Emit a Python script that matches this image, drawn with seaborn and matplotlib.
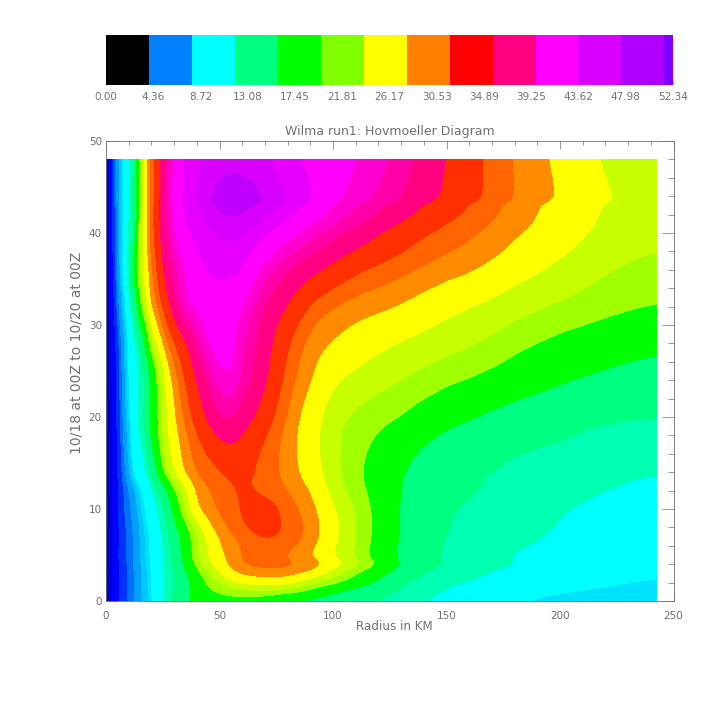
import numpy as np
import matplotlib
matplotlib.use('Agg')
import matplotlib.pyplot as plt
from matplotlib.colors import ListedColormap
from matplotlib.ticker import MultipleLocator
import seaborn as sns

# colour bar across the top
bar_step = 3.965
bar_ticks = [0.00, 4.36, 8.72, 13.08, 17.45, 21.81, 26.17, 30.53, 34.89, 39.25, 43.62, 47.98, 52.34]
bar_colors = ['#000000', '#0080ff', '#00ffff', '#00ff80', '#00ff00', '#80ff00', '#ffff00',
              '#ff8000', '#ff0000', '#ff0080', '#ff00ff', '#d800ff', '#b000ff', '#8000ff']

# contour bands of the diagram
levels = [0, 1.5, 3, 4.36, 5.5, 7, 8, 8.72, 11, 13.08, 17.45, 21.81, 24, 26.17, 29, 31, 33,
          36, 38.5, 40, 41.5, 44, 46, 48, 60]
band_colors = ['#0000d0', '#0000ff', '#0030ff', '#0070ff', '#00a0ff', '#00c8ff', '#00e0ff', '#00ffff',
               '#00ffb0', '#00ff80', '#00ff00', '#a0ff00', '#c8ff00', '#ffff00', '#ff8c00', '#ff6400',
               '#ff3000', '#ff0080', '#ff00a8', '#ff00d0', '#ff00ff', '#e800ff', '#d800ff', '#c000ff']

radius = [0, 2.5, 5, 7.5, 10, 12.5, 15, 17.5, 20, 25, 30, 35, 40, 45, 50, 55, 60, 70, 80, 90, 100,
          110, 120, 130, 140, 150, 165, 180, 200, 220, 242.3]
hours = [0, 1, 2, 3, 4, 5, 6.5, 8, 10, 12, 14, 17, 20, 24, 28, 32, 36, 40, 43, 44, 48]

# wind speed, one list per time
t00 = [0, 1.25, 2.7, 3.6, 4.45, 5.4, 6.65, 7.6, 8.45, 10.55, 13.7, 16.8, 18.6, 19.6, 20.2, 20.6, 20.7, 20.2, 17.45, 16.4, 15.4, 14.2, 13.08, 12, 11, 10.4, 9.6, 8.75, 8.45, 8.3, 8.2]
t01 = [0, 1.25, 2.7, 3.7, 4.45, 5.5, 6.75, 7.65, 8.5, 10.5, 13.08, 16, 18.9, 21.2, 22.2, 22.8, 23.2, 23.4, 23, 21, 17.45, 15.6, 13.7, 12.7, 11.6, 10.8, 10, 9.3, 8.7, 8.55, 8.4]
t02 = [0, 1.25, 2.7, 3.7, 4.45, 5.5, 6.75, 7.65, 8.55, 10.5, 13.08, 16.2, 19.6, 22.4, 24, 25.5, 26.6, 27.3, 26.9, 24.5, 22.9, 20, 16.7, 13.08, 12.2, 11.4, 10.6, 10, 9.4, 8.8, 8.6]
t03 = [0, 1.25, 2.7, 3.7, 4.45, 5.5, 6.75, 7.75, 8.65, 10.5, 13.08, 16.7, 20.9, 23.5, 26.17, 27.9, 29.3, 30.2, 30, 28.2, 25, 22.1, 18.8, 15.4, 12.8, 12.1, 11.1, 10.4, 9.7, 9.2, 8.8]
t04 = [0, 1.25, 2.7, 3.75, 4.6, 5.6, 6.85, 7.9, 8.8, 10.6, 13.5, 18.4, 22.8, 25.3, 27.6, 29.6, 31, 31.7, 31.5, 30.6, 27.7, 24.8, 21.81, 17.2, 14.1, 12.9, 11.9, 10.95, 10.3, 9.6, 9]
t05 = [0, 1.25, 2.7, 3.8, 4.7, 5.7, 7, 8, 8.9, 10.7, 13.7, 19.4, 23.6, 26.4, 28.3, 29.7, 31, 32.2, 30.8, 29.1, 25.9, 23.9, 20, 16.6, 13.9, 12.7, 11.7, 10.9, 10.2, 9.5, 9.1]
t06 = [0, 1.25, 2.65, 3.85, 4.7, 5.7, 7, 8.1, 9, 10.7, 14.5, 19.8, 23.6, 26.4, 28.9, 30.3, 31.2, 32.9, 32, 30.2, 26.6, 24.1, 20.6, 16.9, 14.5, 12.9, 12, 11.4, 10.6, 9.9, 9.3]
t08 = [0, 1.25, 2.6, 3.9, 4.75, 5.75, 7.1, 8.25, 9.2, 11, 16, 20.6, 24.7, 28, 30, 31.4, 32.5, 34.6, 32.5, 30.5, 26.9, 24.1, 21, 16.9, 15, 13, 12.3, 11.6, 10.9, 10.2, 9.6]
t10 = [0, 1.25, 2.7, 4.1, 5.1, 6.2, 7.75, 8.9, 9.7, 11.9, 19, 24.7, 28.7, 30.2, 31.4, 32.2, 33.2, 34.7, 31.9, 30, 26.4, 23.9, 20.8, 16.9, 15.3, 13.3, 12.4, 11.9, 11.1, 10.6, 10]
t12 = [0, 1.25, 2.7, 4.1, 5.3, 6.7, 8.2, 9.2, 10, 14.5, 21.4, 25, 29.5, 30.8, 31.7, 32.5, 33.4, 32.4, 31, 29, 25.2, 23, 20.4, 17.3, 15.6, 14.3, 12.9, 12.3, 11.5, 11, 10.5]
t14 = [0, 1.25, 2.8, 4.75, 6.6, 9.2, 10, 10.8, 12.7, 22.2, 26.4, 29.5, 31.1, 31.9, 32.6, 33.6, 33.8, 32, 30.2, 27.6, 24.6, 22.5, 20, 17.45, 16.2, 14.9, 13.1, 12.6, 12, 11.5, 11]
t17 = [0, 1.25, 3, 5.1, 7.5, 9.7, 10.4, 11.9, 17, 24.3, 27.5, 30.2, 32.1, 33.8, 35.3, 36, 35.2, 32.6, 30, 27.2, 24.5, 22.8, 21.2, 19.1, 17.2, 15.9, 14.6, 13.4, 12.8, 12.3, 11.9]
t20 = [0, 1.25, 3.1, 5.5, 8, 10, 11.7, 14.5, 18.6, 24.4, 28.6, 31.5, 34.2, 36.6, 38.5, 38.8, 37.6, 34.5, 30.5, 27.4, 24.7, 23.4, 22.6, 21.8, 20.4, 18.9, 16.9, 15.6, 14.3, 13.1, 12.9]
t24 = [0, 1.3, 3.3, 5.9, 9, 9.9, 11, 12.7, 17.45, 25, 29.7, 33.1, 36, 38.5, 40.7, 41.5, 39.7, 36.6, 32, 29.1, 26.4, 25.5, 24.8, 24, 23.3, 22.6, 21.5, 19.9, 17.8, 16.5, 15.2]
t28 = [0, 1.4, 3.5, 6.1, 8.9, 10.2, 12.2, 18.5, 23.3, 29, 32.7, 35.1, 38.9, 41.9, 42.8, 42.2, 40.3, 37.3, 33, 30, 28.8, 27.6, 26.6, 25.9, 25.3, 24.8, 24, 22.8, 21, 19.7, 18.3]
t32 = [0, 1.7, 4.6, 7.5, 10, 12.8, 21.8, 25.5, 29, 33.4, 37.7, 41.5, 42.2, 42.6, 42.8, 42.4, 41.5, 38.1, 36, 32.3, 30.8, 30, 29.5, 28.8, 27.8, 26.8, 25.7, 24.8, 23.8, 22.8, 21.8]
t36 = [0, 2, 5.3, 9.2, 11, 20, 24.6, 27.4, 30.3, 36, 39.4, 41.5, 43, 44.1, 44.5, 44.5, 44.2, 40.5, 38.5, 37, 35.2, 33.2, 32.3, 31.5, 30.7, 30, 29, 27.2, 25.5, 24.1, 23.3]
t40 = [0, 2.4, 5.6, 8.72, 10.6, 14.9, 24, 28.3, 31.7, 37.5, 41.5, 43.6, 44.7, 45.7, 46.2, 46.4, 46.2, 44.4, 42.3, 40.7, 39.4, 38.2, 36.3, 34.7, 33.2, 32.3, 31, 29.6, 27.5, 25.6, 24.5]
t43 = [0, 2.5, 5.7, 8.8, 10.4, 14.3, 23.5, 28, 31.4, 37.6, 42.2, 44.4, 45.9, 47.4, 48.6, 49.1, 49, 47.5, 45.5, 43.5, 41.6, 40.4, 39.2, 37.9, 36.2, 34.5, 32.3, 30.3, 28, 25.9, 24.9]
t44 = [0, 2.5, 5.8, 8.9, 10.4, 14.2, 23.5, 28, 31.4, 37.6, 42.4, 44.6, 46.2, 47.8, 49, 49.7, 49.6, 48.1, 46, 44.4, 42, 40.7, 39.8, 38.5, 37, 35.5, 33.1, 31, 28.9, 26.4, 25]
t48 = [0, 2.5, 5.8, 8.72, 10.3, 13.08, 22.4, 27.6, 31, 37.4, 42, 44.3, 45.5, 46.3, 46.8, 47, 46.9, 46.2, 44.4, 43.4, 42.6, 41.7, 40.6, 39.4, 37.9, 36.2, 33, 30.9, 28.3, 25.7, 23.9]

speed = np.array([t00, t01, t02, t03, t04, t05, t06, t08, t10, t12, t14, t17, t20, t24, t28, t32, t36, t40, t43, t44, t48])


def round_edges(values, axis, n=6):
    # split each cell in n and average over one cell, so contour corners get rounded
    def one(v):
        idx = np.linspace(0, len(v) - 1, (len(v) - 1) * n + 1)
        fine = np.interp(idx, np.arange(len(v)), v)
        padded = np.pad(fine, n // 2, mode='edge')
        return np.convolve(padded, np.ones(n + 1) / (n + 1), mode='valid')
    return np.apply_along_axis(one, axis, values)


def split_cells(v, n=6):
    return np.interp(np.linspace(0, len(v) - 1, (len(v) - 1) * n + 1), np.arange(len(v)), v)


sns.set_style('ticks')
plt.rcParams['font.family'] = ['DejaVu Sans']
gray = '#707070'

fig = plt.figure(figsize=(7.08, 7.08), dpi=100)
W = 708.0

# colour bar, drawn as a one row heatmap
ax_bar = fig.add_axes([106 / W, 1 - 85 / W, 567 / W, 50 / W])
sns.heatmap(np.arange(len(bar_colors)).reshape(1, -1), ax=ax_bar, cmap=ListedColormap(bar_colors),
            cbar=False, xticklabels=False, yticklabels=False)
ax_bar.set_xlim(0, bar_ticks[-1] / bar_step)
ax_bar.set_xticks(np.array(bar_ticks) / bar_step)
ax_bar.set_xticklabels(['%.2f' % v for v in bar_ticks], fontsize=7.5, color=gray)
ax_bar.tick_params(axis='x', direction='in', length=3, width=0.4, color=gray, pad=5)
ax_bar.tick_params(axis='y', left=False)

# main diagram
ax = fig.add_axes([106 / W, 1 - 601 / W, 567.5 / W, 460 / W])
rounded = round_edges(round_edges(speed, 0), 1)
ax.contourf(split_cells(radius), split_cells(hours), rounded, levels=levels, colors=band_colors)
ax.set_xlim(0, 250)
ax.set_ylim(0, 50)
ax.xaxis.set_major_locator(MultipleLocator(50))
ax.xaxis.set_minor_locator(MultipleLocator(10))
ax.yaxis.set_major_locator(MultipleLocator(10))
ax.yaxis.set_minor_locator(MultipleLocator(2))
ax.tick_params(axis='x', which='major', direction='in', top=True, length=6, width=0.5, color=gray,
               labelsize=7.5, labelcolor=gray, pad=7)
ax.tick_params(axis='x', which='minor', direction='in', top=True, length=3, width=0.5, color=gray)
ax.tick_params(axis='y', which='major', direction='in', right=True, length=8.5, width=0.5, color=gray,
               labelsize=7.5, labelcolor=gray, pad=3)
ax.tick_params(axis='y', which='minor', direction='in', right=True, length=4.5, width=0.5, color=gray)
for s in ax.spines.values():
    s.set_linewidth(0.6)
    s.set_color(gray)
ax.set_title('Wilma run1: Hovmoeller Diagram', fontsize=9, color=gray, pad=4)
ax.set_xlabel('Radius in KM', fontsize=8.6, color=gray, va='center')
ax.xaxis.set_label_coords((394 - 106) / 567.5, -(626 - 601) / 460)
ax.set_ylabel('10/18 at 00Z to 10/20 at 00Z', fontsize=10, color=gray, va='center')
ax.yaxis.set_label_coords((77 - 106) / 567.5, (601 - 353) / 460)

fig.savefig('out.png', dpi=100)
